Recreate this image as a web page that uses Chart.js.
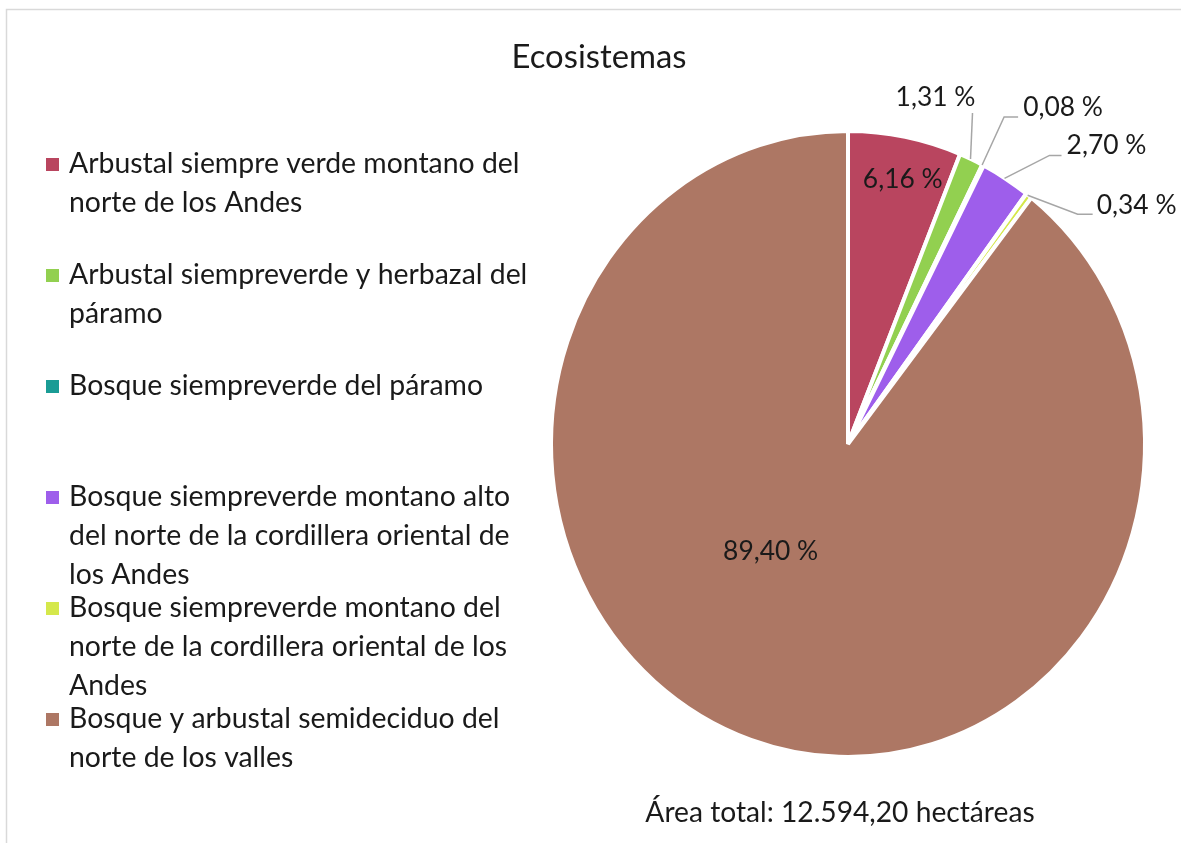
<!DOCTYPE html>
<html lang="es">
<head>
<meta charset="utf-8">
<title>Ecosistemas</title>
<script src="https://cdn.jsdelivr.net/npm/chart.js@4.4.1/dist/chart.umd.min.js"></script>
<style>
  html, body { margin: 0; padding: 0; background: #fff; }
  #wrap { position: relative; width: 1181px; height: 843px; overflow: hidden; }
</style>
</head>
<body>
<div id="wrap"><canvas id="pie" width="1181" height="843"></canvas></div>
<script>
/* ------------------------- DATOS ------------------------- */
const titulo = "Ecosistemas";
const notaArea = "Área total: 12.594,20 hectáreas";
const ecosistemas = [
    "Arbustal siempre verde montano del norte de los Andes",
    "Arbustal siempreverde y herbazal del páramo",
    "Bosque siempreverde del páramo",
    "Bosque siempreverde montano alto del norte de la cordillera oriental de los Andes",
    "Bosque siempreverde montano del norte de la cordillera oriental de los Andes",
    "Bosque y arbustal semideciduo del norte de los valles"
];
const porcentajes = [6.16, 1.31, 0.08, 2.70, 0.34, 89.40];
const colores = ["#B9455F", "#92D050", "#1A9C95", "#9E5EEB", "#D5E84B", "#AD7764"];

/* ------------------------- ESTILO ------------------------- */
const FUENTE = "Lato";
const TEXTO = "#1a1a1a";
const GUIA = "#A6A6A6";
const ESTIRAMIENTO_Y = 311 / 295; // la torta del original sale algo ovalada

// etiqueta: desplazamiento desde el punto medio del borde de la porción
// guia: puntos (relativos al centro de la etiqueta) por donde pasa la línea guía
const posEtiquetas = [
    { dx: -2, dy: 41 },
    { dx: -35, dy: -64, guia: [[37, 16]] },
    { dx: 81, dy: -60, guia: [[-59, 10], [-45, 10]] },
    { dx: 102, dy: -35, guia: [[-57, 10], [-45, 10]] },
    { dx: 109, dy: 8, guia: [[-59, 9], [-44, 9]] },
    { dx: 19, dy: -186 }
];

const fmt = v => v.toFixed(2).replace(".", ",") + " %";

function bordeMedio(arc) {
    const p = arc.getProps(["x", "y", "startAngle", "endAngle", "outerRadius"], true);
    const m = (p.startAngle + p.endAngle) / 2;
    const r = p.outerRadius - 2;
    return { x: p.x + Math.cos(m) * r, y: p.y + Math.sin(m) * r * ESTIRAMIENTO_Y };
}

function partirTexto(ctx, texto, ancho) {
    const palabras = texto.split(" ");
    const lineas = [];
    let actual = "";
    palabras.forEach(w => {
        const prueba = actual ? actual + " " + w : w;
        if (actual && ctx.measureText(prueba).width > ancho) {
            lineas.push(actual);
            actual = w;
        } else actual = prueba;
    });
    if (actual) lineas.push(actual);
    return lineas;
}

/* ------------------------- PLUGINS ------------------------- */
const marco = {
    id: "marco",
    beforeDraw(chart) {
        const c = chart.ctx;
        c.save();
        c.strokeStyle = "#D9D9D9";
        c.lineWidth = 1.5;
        c.beginPath();
        c.moveTo(6.5, chart.height + 5);
        c.lineTo(6.5, 9.5);
        c.lineTo(chart.width + 5, 9.5);
        c.stroke();
        c.restore();
    }
};

const ovalo = {
    id: "ovalo",
    beforeDatasetsDraw(chart) {
        const a = chart.getDatasetMeta(0).data[0];
        const c = chart.ctx;
        c.save();
        c.translate(a.x, a.y);
        c.scale(1, ESTIRAMIENTO_Y);
        c.translate(-a.x, -a.y);
    },
    afterDatasetsDraw(chart) {
        chart.ctx.restore();
    }
};

const textos = {
    id: "textos",
    afterDraw(chart) {
        const c = chart.ctx;
        c.save();
        c.fillStyle = TEXTO;

        // título
        c.font = `32.8px ${FUENTE}`;
        c.textAlign = "center";
        c.textBaseline = "alphabetic";
        c.fillText(titulo, 599, 68);

        // nota de área
        c.font = `28.2px ${FUENTE}`;
        c.fillText(notaArea, 840, 822);

        // etiquetas de datos
        const arcos = chart.getDatasetMeta(0).data;
        c.font = `26.4px ${FUENTE}`;
        c.textBaseline = "middle";
        arcos.forEach((arc, i) => {
            const b = bordeMedio(arc);
            const pos = posEtiquetas[i];
            const lx = b.x + pos.dx, ly = b.y + pos.dy;
            if (pos.guia) {
                c.strokeStyle = GUIA;
                c.lineWidth = 1.5;
                c.beginPath();
                c.moveTo(b.x, b.y - 2);
                pos.guia.forEach(([gx, gy]) => c.lineTo(lx + gx, ly + gy));
                c.stroke();
            }
            c.fillStyle = TEXTO;
            c.fillText(fmt(porcentajes[i]), lx, ly);
        });

        // leyenda
        c.font = `28.4px ${FUENTE}`;
        c.textAlign = "left";
        c.textBaseline = "alphabetic";
        chart.data.labels.forEach((lab, i) => {
            const base = 173 + 111 * i;
            c.fillStyle = colores[i];
            c.fillRect(46, base - 15, 13, 13);
            c.fillStyle = TEXTO;
            partirTexto(c, lab, 468).forEach((ln, k) => c.fillText(ln, 69, base + 39 * k));
        });
        c.restore();
    }
};

/* ------------------------- GRÁFICO ------------------------- */
new Chart(document.getElementById("pie"), {
    type: "pie",
    data: {
        labels: ecosistemas,
        datasets: [{
            data: porcentajes,
            backgroundColor: colores,
            borderColor: "#ffffff",
            borderWidth: 4
        }]
    },
    options: {
        responsive: false,
        animation: false,
        radius: 297,
        layout: { padding: { left: 515, right: 0, top: 100, bottom: 55 } },
        plugins: {
            legend: { display: false },
            title: { display: false },
            tooltip: { enabled: false }
        }
    },
    plugins: [marco, ovalo, textos]
});
</script>
</body>
</html>
